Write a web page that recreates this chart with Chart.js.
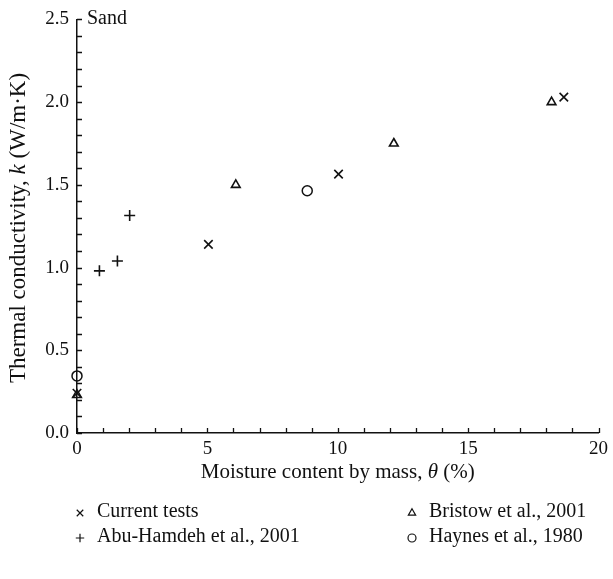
<!DOCTYPE html>
<html>
<head>
<meta charset="utf-8">
<script src="https://cdn.jsdelivr.net/npm/chart.js@4/dist/chart.umd.min.js"></script>
<style>
  html, body { margin: 0; padding: 0; background: #fff; }
  #wrap { width: 613px; height: 579px; position: relative; }
</style>
</head>
<body>
<div id="wrap"><canvas id="c" width="613" height="579"></canvas></div>
<script>
// Moisture content (%) and thermal conductivity (W/m·K) for sand
const currentX = [0, 5.04, 10.03, 18.67];
const currentK = [0.24, 1.14, 1.565, 2.03];
const abuX = [0.86, 1.55, 2.02];
const abuK = [0.98, 1.04, 1.315];
const bristowX = [0, 6.09, 12.15, 18.2];
const bristowK = [0.23, 1.50, 1.75, 2.00];
const haynesX = [0, 8.83];
const haynesK = [0.345, 1.464];

const xTicks = [0, 5, 10, 15, 20];
const yTicks = [0.0, 0.5, 1.0, 1.5, 2.0, 2.5];

const seriesNames = ['Current tests', 'Abu-Hamdeh et al., 2001', 'Bristow et al., 2001', 'Haynes et al., 1980'];

const SERIF = '"Liberation Serif", "Times New Roman", serif';
const INK = '#111';

function pts(xs, ys) { return xs.map((x, i) => ({ x: x, y: ys[i] })); }

const markerStyles = [
  { pointStyle: 'crossRot', radius: 6, lw: 1.6 },
  { pointStyle: 'cross', radius: 5.5, lw: 1.6 },
  { pointStyle: 'triangle', radius: 5, lw: 1.6 },
  { pointStyle: 'circle', radius: 5, lw: 1.5 }
];
const seriesData = [pts(currentX, currentK), pts(abuX, abuK), pts(bristowX, bristowK), pts(haynesX, haynesK)];

const datasets = seriesData.map((d, i) => ({
  label: seriesNames[i],
  data: d,
  pointStyle: markerStyles[i].pointStyle,
  pointRadius: markerStyles[i].radius,
  pointBorderWidth: markerStyles[i].lw,
  pointBorderColor: INK,
  pointBackgroundColor: 'rgba(0,0,0,0)',
  showLine: false,
  clip: false
}));

// Inward minor/major ticks, axis titles, panel label and legend
const decorPlugin = {
  id: 'decor',
  afterDraw(chart) {
    const ctx = chart.ctx;
    const xs = chart.scales.x, ys = chart.scales.y;
    const area = chart.chartArea;
    ctx.save();
    ctx.strokeStyle = INK;
    ctx.lineWidth = 1.3;
    ctx.beginPath();
    for (let v = 0; v <= 20; v += 1) {
      const px = Math.round(xs.getPixelForValue(v)) + 0.5;
      ctx.moveTo(px, area.bottom);
      ctx.lineTo(px, area.bottom - 5);
    }
    for (let k = 0; k <= 25; k += 1) {
      const py = Math.round(ys.getPixelForValue(k / 10)) + 0.5;
      ctx.moveTo(area.left, py);
      ctx.lineTo(area.left + 5, py);
    }
    ctx.stroke();

    ctx.fillStyle = INK;
    ctx.textBaseline = 'middle';

    const R = '20px ' + SERIF;

    // panel label
    ctx.font = R;
    ctx.textAlign = 'left';
    ctx.fillText('Sand', area.left + 10, 19);

    // mixed-style text helper
    function runs(parts, cx, cy) {
      let total = 0;
      parts.forEach(p => { ctx.font = p[1]; total += ctx.measureText(p[0]).width; });
      let x = cx - total / 2;
      ctx.textAlign = 'left';
      parts.forEach(p => { ctx.font = p[1]; ctx.fillText(p[0], x, cy); x += ctx.measureText(p[0]).width; });
    }

    // x-axis title
    const XR = '21px ' + SERIF, XI = 'italic 21px ' + SERIF;
    runs([['Moisture content by mass, ', XR], ['\u03B8', XI], [' (%)', XR]], (area.left + area.right) / 2, 472);

    // y-axis title
    const YR = '23px ' + SERIF, YI = 'italic 23px ' + SERIF;
    ctx.save();
    ctx.translate(19, 228);
    ctx.rotate(-Math.PI / 2);
    runs([['Thermal conductivity, ', YR], ['k', YI], [' (W/m\u00B7K)', YR]], 0, 0);
    ctx.restore();

    // legend, two columns
    const cols = [80, 412];
    const rows = [512, 537];
    const order = [[0, 0, 0], [1, 0, 1], [2, 1, 0], [3, 1, 1]];
    const legendMarks = [
      { pointStyle: 'crossRot', radius: 4.6, lw: 1.2 },
      { pointStyle: 'cross', radius: 4.2, lw: 1.2 },
      { pointStyle: 'triangle', radius: 4.2, lw: 1.2 },
      { pointStyle: 'circle', radius: 4, lw: 1.2 }
    ];
    order.forEach(o => {
      const i = o[0], mx = cols[o[1]], my = rows[o[2]];
      const m = legendMarks[i];
      ctx.lineWidth = m.lw;
      ctx.strokeStyle = INK;
      ctx.fillStyle = 'rgba(0,0,0,0)';
      Chart.helpers.drawPoint(ctx, { pointStyle: m.pointStyle, radius: m.radius, borderWidth: m.lw, rotation: 0 }, mx, my + 1);
      ctx.font = R;
      ctx.textAlign = 'left';
      ctx.fillStyle = INK;
      ctx.fillText(seriesNames[i], mx + 17, my);
    });
    ctx.restore();
  }
};

new Chart(document.getElementById('c'), {
  type: 'scatter',
  data: { datasets: datasets },
  options: {
    responsive: false,
    animation: false,
    layout: { padding: { left: 0, top: 14, right: 11, bottom: 0 } },
    plugins: { legend: { display: false }, tooltip: { enabled: false } },
    scales: {
      x: {
        type: 'linear', min: 0, max: 20,
        afterFit(s) { s.height = 146; },
        afterBuildTicks(s) { s.ticks = xTicks.map(v => ({ value: v })); },
        grid: { display: false, drawTicks: false },
        border: { display: true, color: INK, width: 1.5 },
        ticks: { color: INK, font: { family: SERIF, size: 19 }, padding: 5, maxRotation: 0 }
      },
      y: {
        type: 'linear', min: 0, max: 2.5,
        afterFit(s) { s.width = 77; },
        afterBuildTicks(s) { s.ticks = yTicks.map(v => ({ value: v })); },
        grid: { display: false, drawTicks: false },
        border: { display: true, color: INK, width: 1.5 },
        ticks: { color: INK, font: { family: SERIF, size: 19 }, padding: 8,
                 callback: v => Number(v).toFixed(1) }
      }
    }
  },
  plugins: [decorPlugin]
});
</script>
</body>
</html>
